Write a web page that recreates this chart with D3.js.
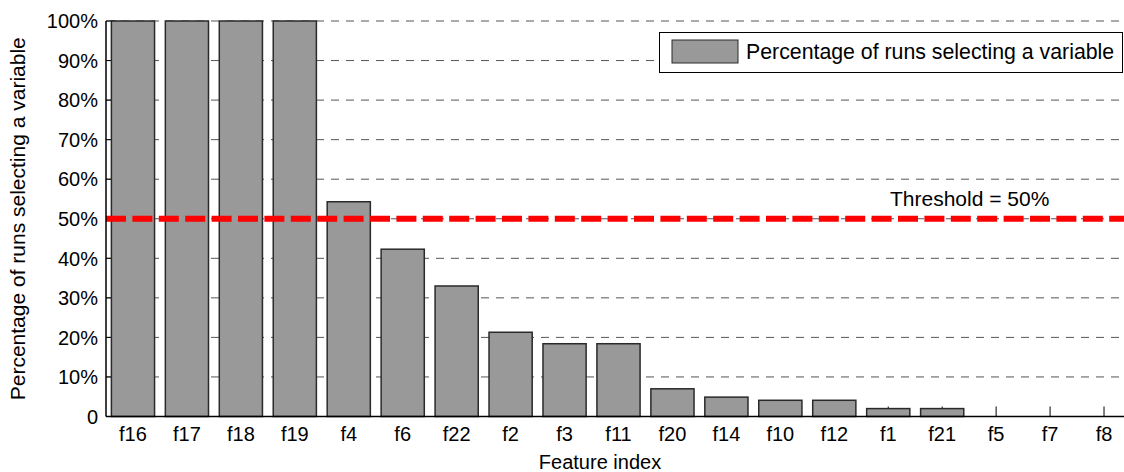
<!DOCTYPE html>
<html>
<head>
<meta charset="utf-8">
<script src="https://cdn.jsdelivr.net/npm/d3@7"></script>
<style>
  body { margin: 0; background: #fff; }
  svg { display: block; font-family: "Liberation Sans", Arial, sans-serif; }
</style>
</head>
<body>
<div id="chart"></div>
<script>
// feature order as plotted (sorted by selection rate)
const features = ["f16", "f17", "f18", "f19", "f4", "f6", "f22", "f2", "f3", "f11",
                  "f20", "f14", "f10", "f12", "f1", "f21", "f5", "f7", "f8"]
const pctSelected = [100, 100, 100, 100, 54.3, 42.3, 33.0, 21.3, 18.4, 18.4,
                     7.0, 4.9, 4.1, 4.1, 2.0, 2.0, 0, 0, 0]
const yTicks = [0, 10, 20, 30, 40, 50, 60, 70, 80, 90, 100]
const threshold = 50

const width = 1124, height = 472
const margin = { left: 106, right: -7, top: 21, bottom: 55.5 }

const svg = d3.select("#chart").append("svg")
  .attr("width", width)
  .attr("height", height)
  .style("overflow", "hidden")

const x = d3.scaleBand()
  .domain(features)
  .range([margin.left, width - margin.right])
  .paddingInner(0.2)
  .paddingOuter(0.1)

const y = d3.scaleLinear()
  .domain([0, 100])
  .range([height - margin.bottom, margin.top])

const fmtPct = d => d === 0 ? "0" : d + "%"

// dashed grid lines (behind the bars)
svg.append("g")
  .selectAll("line")
  .data(yTicks.filter(d => d > 0))
  .enter().append("line")
  .attr("x1", margin.left)
  .attr("x2", width)
  .attr("y1", d => y(d))
  .attr("y2", d => y(d))
  .attr("stroke", "#555")
  .attr("stroke-width", 1)
  .attr("stroke-dasharray", "8,7")

// inward ticks on the x axis
svg.append("g")
  .selectAll("line")
  .data(features)
  .enter().append("line")
  .attr("x1", d => x(d) + x.bandwidth() / 2)
  .attr("x2", d => x(d) + x.bandwidth() / 2)
  .attr("y1", y(0))
  .attr("y2", y(0) - 10)
  .attr("stroke", "#000")

// inward ticks on the y axis
svg.append("g")
  .selectAll("line")
  .data(yTicks)
  .enter().append("line")
  .attr("x1", margin.left)
  .attr("x2", margin.left + 10)
  .attr("y1", d => y(d))
  .attr("y2", d => y(d))
  .attr("stroke", "#000")

// bars
svg.append("g")
  .selectAll("rect")
  .data(features)
  .enter().append("rect")
  .attr("x", d => x(d))
  .attr("width", x.bandwidth())
  .attr("y", (d, i) => y(pctSelected[i]))
  .attr("height", (d, i) => y(0) - y(pctSelected[i]))
  .attr("fill", "#999999")
  .attr("stroke", "#2a2a2a")
  .attr("stroke-width", 1.5)

// threshold line
svg.append("line")
  .attr("x1", margin.left)
  .attr("x2", width)
  .attr("y1", y(threshold))
  .attr("y2", y(threshold))
  .attr("stroke", "#ff0000")
  .attr("stroke-width", 6)
  .attr("stroke-dasharray", "20,6.4")

svg.append("text")
  .attr("x", 890)
  .attr("y", y(threshold) - 13)
  .attr("font-size", 21)
  .text("Threshold = " + threshold + "%")

// axes lines
svg.append("line")
  .attr("x1", margin.left).attr("x2", width)
  .attr("y1", y(0)).attr("y2", y(0))
  .attr("stroke", "#000").attr("stroke-width", 1.5)
svg.append("line")
  .attr("x1", margin.left).attr("x2", margin.left)
  .attr("y1", y(0)).attr("y2", y(100))
  .attr("stroke", "#000").attr("stroke-width", 1.5)

// y tick labels
svg.append("g")
  .selectAll("text")
  .data(yTicks)
  .enter().append("text")
  .attr("x", margin.left - 8)
  .attr("y", d => y(d))
  .attr("dy", "0.36em")
  .attr("text-anchor", "end")
  .attr("font-size", 20)
  .text(fmtPct)

// x tick labels
svg.append("g")
  .selectAll("text")
  .data(features)
  .enter().append("text")
  .attr("x", d => x(d) + x.bandwidth() / 2)
  .attr("y", y(0) + 24)
  .attr("text-anchor", "middle")
  .attr("font-size", 20)
  .text(d => d)

// axis titles
svg.append("text")
  .attr("x", 600)
  .attr("y", 469)
  .attr("text-anchor", "middle")
  .attr("font-size", 20)
  .text("Feature index")

svg.append("text")
  .attr("transform", "translate(25," + (y(50)) + ") rotate(-90)")
  .attr("text-anchor", "middle")
  .attr("font-size", 21)
  .text("Percentage of runs selecting a variable")

// legend
const legend = svg.append("g")
legend.append("rect")
  .attr("x", 659.5).attr("y", 32.5)
  .attr("width", 463).attr("height", 40)
  .attr("fill", "#fff").attr("stroke", "#000")
legend.append("rect")
  .attr("x", 672).attr("y", 40)
  .attr("width", 66).attr("height", 23)
  .attr("fill", "#999999").attr("stroke", "#2a2a2a")
legend.append("text")
  .attr("x", 746).attr("y", 59)
  .attr("font-size", 21.3)
  .text("Percentage of runs selecting a variable")
</script>
</body>
</html>
